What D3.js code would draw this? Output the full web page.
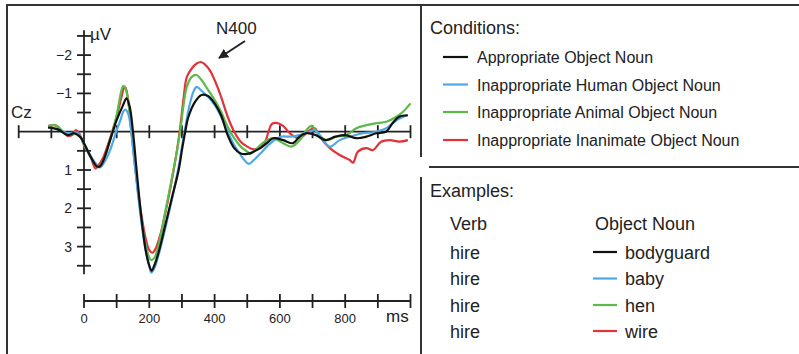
<!DOCTYPE html>
<html><head><meta charset="utf-8">
<script src="https://cdn.jsdelivr.net/npm/d3@7"></script>
<style>
html,body{margin:0;padding:0;background:#fff;}
svg{display:block;font-family:"Liberation Sans",Arial,Helvetica,sans-serif;}
</style></head>
<body>
<svg id="chart" width="799" height="354"></svg>
<script>
// ---- data ----
const conditions = ["Appropriate Object Noun","Inappropriate Human Object Noun","Inappropriate Animal Object Noun","Inappropriate Inanimate Object Noun"];
const seriesColors = ["#111111","#4fa8e6","#5cba4a","#e2323a"];
const verbs = ["hire","hire","hire","hire"];
const nouns = ["bodyguard","baby","hen","wire"];
const xTicks = [-200,-100,100,200,300,400,500,600,700,800,900,1000];
const bottomTicks = [0,100,200,300,400,500,600,700,800,900,1000];
const bottomLabels = [0,200,400,600,800];
const yMinorTicks = [-2.5,-2,-1.5,-1,-0.5,0.5,1,1.5,2,2.5,3,3.5];
const yLabels = [-2,-1,1,2,3];

const appropriate = [[-110,-0.11],[-80,-0.06],[-50,0.09],[-30,0.04],[-10,0.15],[0,0.3],[20,0.65],[40,0.91],[50,0.9],[60,0.74],[80,0.22],[100,-0.3],[120,-0.7],[130,-0.87],[140,-0.65],[150,0],[160,0.9],[170,1.8],[180,2.55],[190,3.15],[200,3.5],[207,3.63],[215,3.5],[230,3.1],[250,2.4],[270,1.7],[290,1.0],[300,0.48],[310,0],[320,-0.39],[340,-0.78],[360,-0.96],[380,-0.93],[400,-0.74],[420,-0.43],[440,0.09],[460,0.43],[480,0.57],[500,0.58],[520,0.52],[540,0.43],[560,0.3],[580,0.17],[610,0.22],[640,0.3],[660,0.13],[680,0.04],[710,0.09],[740,0.22],[770,0.13],[800,0.09],[835,0.17],[865,0.13],[895,0.04],[925,0],[945,-0.22],[965,-0.39],[992,-0.43]];
const human = [[-110,-0.11],[-80,-0.06],[-50,0.04],[-20,0.03],[0,0.3],[20,0.63],[40,0.87],[50,0.93],[60,0.83],[80,0.48],[100,-0.04],[110,-0.26],[120,-0.52],[126,-0.58],[135,-0.48],[145,0],[155,0.83],[170,1.96],[185,2.9],[200,3.5],[206,3.68],[215,3.57],[230,3.17],[250,2.48],[270,1.74],[290,0.91],[300,0.39],[310,-0.09],[320,-0.57],[335,-1.04],[345,-1.17],[360,-1.07],[380,-0.91],[400,-0.7],[420,-0.39],[440,0],[460,0.35],[480,0.61],[495,0.78],[505,0.84],[520,0.74],[540,0.57],[560,0.39],[580,0.24],[605,0.13],[630,0.13],[660,0.09],[690,0],[707,-0.04],[722,0.09],[753,0.39],[783,0.22],[814,0.13],[855,0.04],[895,0],[926,-0.09],[957,-0.3],[990,-0.43]];
const animal = [[-110,-0.15],[-90,-0.17],[-80,-0.14],[-65,0],[-50,0.09],[-30,0.05],[-10,0.15],[0,0.35],[20,0.65],[35,0.87],[45,0.93],[60,0.74],[80,0.22],[100,-0.43],[115,-1.09],[120,-1.19],[125,-1.17],[135,-0.83],[145,0],[160,1.17],[175,2.22],[190,3.0],[205,3.35],[215,3.3],[230,2.9],[250,2.04],[270,1.17],[285,0.48],[295,-0.04],[305,-0.7],[315,-1.17],[330,-1.43],[345,-1.48],[360,-1.35],[380,-1.09],[400,-0.83],[420,-0.52],[440,-0.13],[460,0.17],[480,0.39],[500,0.52],[510,0.58],[525,0.48],[540,0.35],[560,0.22],[580,0.17],[610,0.3],[636,0.39],[661,0.22],[681,-0.04],[697,-0.15],[712,0],[742,0.22],[773,0.13],[803,0.09],[834,-0.09],[865,-0.17],[895,-0.22],[926,-0.26],[957,-0.39],[977,-0.52],[1000,-0.74]];
const inanimate = [[-110,-0.15],[-90,-0.17],[-75,-0.09],[-50,0.11],[-35,0.08],[-25,-0.04],[-15,0.04],[0,0.35],[20,0.65],[35,0.96],[45,0.87],[60,0.65],[80,0.17],[100,-0.39],[115,-0.91],[122,-1.13],[127,-1.15],[135,-0.83],[145,-0.04],[160,1.13],[175,2.13],[190,2.83],[200,3.09],[210,3.16],[220,3.04],[235,2.65],[250,2.09],[270,1.22],[285,0.48],[295,-0.13],[305,-0.87],[315,-1.43],[330,-1.65],[345,-1.78],[358,-1.82],[370,-1.76],[385,-1.61],[400,-1.35],[420,-0.91],[440,-0.39],[460,0],[480,0.26],[500,0.39],[520,0.46],[540,0.41],[555,0.26],[565,0],[575,-0.2],[589,-0.23],[610,-0.15],[630,0.04],[661,0.17],[691,-0.04],[707,-0.09],[722,0.13],[753,0.43],[783,0.61],[814,0.74],[824,0.81],[839,0.52],[865,0.43],[885,0.48],[910,0.26],[936,0.22],[966,0.26],[992,0.22]];
const seriesData = [appropriate, human, animal, inanimate];

// ---- drawing ----
const svg = d3.select("#chart");
const ink = "#222";
const x = d3.scaleLinear().domain([0,1000]).range([84,410.5]);
const y = d3.scaleLinear().domain([0,1]).range([131.7,170]);

// frame
svg.append("path").attr("d","M7,354 V5 H799").attr("fill","none").attr("stroke","#333").attr("stroke-width",2);
svg.append("line").attr("x1",421).attr("x2",421).attr("y1",5).attr("y2",157).attr("stroke","#333").attr("stroke-width",2);
svg.append("line").attr("x1",429).attr("x2",799).attr("y1",167).attr("y2",167).attr("stroke","#333").attr("stroke-width",2);
svg.append("line").attr("x1",421).attr("x2",421).attr("y1",177).attr("y2",354).attr("stroke","#333").attr("stroke-width",2);

// zero line (time axis through 0 µV)
const g = svg.append("g");
g.append("line").attr("x1",x(-200)).attr("x2",x(1000)).attr("y1",y(0)).attr("y2",y(0)).attr("stroke",ink).attr("stroke-width",1.8);
g.selectAll(".xt").data(xTicks).join("line")
  .attr("x1",d=>x(d)).attr("x2",d=>x(d)).attr("y1",y(0)-6.5).attr("y2",y(0)+6.5)
  .attr("stroke",ink).attr("stroke-width",1.8);

// y axis
g.append("line").attr("x1",x(0)).attr("x2",x(0)).attr("y1",y(-2.65)).attr("y2",y(3.72)).attr("stroke",ink).attr("stroke-width",1.8);
g.selectAll(".yt").data(yMinorTicks).join("line")
  .attr("x1",x(0)-7).attr("x2",x(0)+7).attr("y1",d=>y(d)).attr("y2",d=>y(d))
  .attr("stroke",ink).attr("stroke-width",1.8);
g.selectAll(".yl").data(yLabels).join("text")
  .attr("x",x(0)-12).attr("y",d=>y(d)+5).attr("text-anchor","end")
  .attr("font-size",14).attr("fill",ink).text(d=>d<0?"\u2212"+Math.abs(d):d);
g.append("text").attr("x",90).attr("y",40).attr("font-size",17).attr("fill",ink).text("\u00b5V");
g.append("text").attr("x",11).attr("y",118).attr("font-size",17).attr("fill",ink).text("Cz");

// bottom time axis
const by = 301;
g.append("line").attr("x1",x(0)).attr("x2",x(1000)).attr("y1",by).attr("y2",by).attr("stroke",ink).attr("stroke-width",1.8);
g.selectAll(".bt").data(bottomTicks).join("line")
  .attr("x1",d=>x(d)).attr("x2",d=>x(d)).attr("y1",by-7).attr("y2",by+7)
  .attr("stroke",ink).attr("stroke-width",1.8);
g.selectAll(".bl").data(bottomLabels).join("text")
  .attr("x",d=>x(d)).attr("y",323).attr("text-anchor","middle")
  .attr("font-size",13).attr("fill",ink).text(d=>d);
g.append("text").attr("x",386).attr("y",322).attr("font-size",17).attr("fill",ink).text("ms");

// curves
const line = d3.line().x(d=>x(d[0])).y(d=>y(d[1])).curve(d3.curveCatmullRom.alpha(0.5));
[3,2,1,0].forEach(i=>{
  svg.append("path").datum(seriesData[i]).attr("d",line)
    .attr("fill","none").attr("stroke",seriesColors[i]).attr("stroke-width",2.2)
    .attr("stroke-linejoin","round");
});

// N400 annotation
svg.append("defs").append("marker").attr("id","ah").attr("viewBox","0 0 10 10")
  .attr("refX",9).attr("refY",5).attr("markerWidth",5).attr("markerHeight",5).attr("orient","auto")
  .append("path").attr("d","M0,0 L10,5 L0,10 z").attr("fill",ink);
svg.append("text").attr("x",216).attr("y",34).attr("font-size",17).attr("fill",ink).text("N400");
svg.append("line").attr("x1",245).attr("y1",41).attr("x2",219).attr("y2",58)
  .attr("stroke",ink).attr("stroke-width",2).attr("marker-end","url(#ah)");

// legend: conditions
const leg = svg.append("g");
leg.append("text").attr("x",430).attr("y",34).attr("font-size",18).attr("fill",ink).text("Conditions:");
const rowY = [57,84.5,112,140];
conditions.forEach((c,i)=>{
  leg.append("line").attr("x1",443).attr("x2",468).attr("y1",rowY[i]).attr("y2",rowY[i]).attr("stroke",seriesColors[i]).attr("stroke-width",2.2);
  leg.append("text").attr("x",477).attr("y",rowY[i]+6).attr("font-size",16).attr("fill",ink).text(c);
});

// examples
leg.append("text").attr("x",430).attr("y",197).attr("font-size",18).attr("fill",ink).text("Examples:");
leg.append("text").attr("x",450).attr("y",230).attr("font-size",18).attr("fill",ink).text("Verb");
leg.append("text").attr("x",595).attr("y",230).attr("font-size",18).attr("fill",ink).text("Object Noun");
const exY = [252,278.5,305,331];
verbs.forEach((v,i)=>{
  leg.append("text").attr("x",450).attr("y",exY[i]+6.5).attr("font-size",18).attr("fill",ink).text(v);
  leg.append("line").attr("x1",593).attr("x2",617).attr("y1",exY[i]).attr("y2",exY[i]).attr("stroke",seriesColors[i]).attr("stroke-width",2.2);
  leg.append("text").attr("x",625).attr("y",exY[i]+6.5).attr("font-size",18).attr("fill",ink).text(nouns[i]);
});
</script>
</body></html>
